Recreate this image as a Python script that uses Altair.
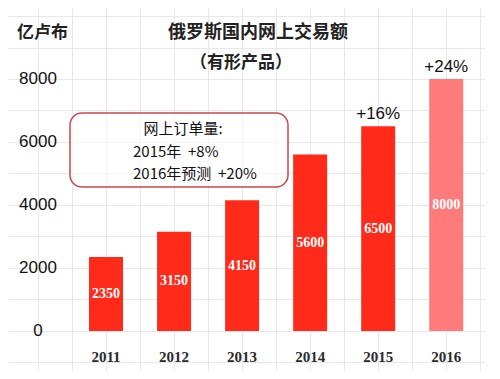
import altair as alt
import pandas as pd

years = ["2011", "2012", "2013", "2014", "2015", "2016"]
values = [2350, 3150, 4150, 5600, 6500, 8000]
growth = ["", "", "", "", "+16%", "+24%"]
bar_colors = ["#ff2a1a", "#ff2a1a", "#ff2a1a", "#ff2a1a", "#ff2a1a", "#ff7a7a"]
y_ticks = [0, 2000, 4000, 6000, 8000]
y_tick_labels = ["0", "2000", "4000", "6000", "8000"]
title_text = "俄罗斯国内网上交易额"
subtitle_text = "（有形产品）"
unit_text = "亿卢布"
box_lines = ["网上订单量:", "2015年\u00a0\u00a0+8%", "2016年预测\u00a0\u00a0+20%"]

df = pd.DataFrame({
    "i": list(range(len(years))),
    "year": years,
    "v": values,
    "half": [v / 2 for v in values],
    "growth": growth,
    "color": bar_colors,
})
ticks_df = pd.DataFrame({"v": y_ticks, "lab": y_tick_labels})

W, H = 477, 363
x_scale = alt.Scale(domain=[-1.367, 5.496], nice=False, zero=False)
y_scale = alt.Scale(domain=[-1270, 10254], nice=False, zero=False)
x_axis = alt.Axis(values=[k * 0.5 for k in range(-2, 12)], grid=True, labels=False,
                  ticks=False, domain=False, title=None, gridColor="#e8e8e8", gridWidth=1)
y_axis = alt.Axis(values=list(range(-1000, 10001, 1000)), grid=True, labels=False,
                  ticks=False, domain=False, title=None, gridColor="#e8e8e8", gridWidth=1)

def X(f):
    return alt.X(f, scale=x_scale, axis=x_axis)

def Y(f):
    return alt.Y(f, scale=y_scale, axis=y_axis)

base = alt.Chart(df)

bars = base.mark_bar(size=34).encode(
    x=X("i:Q"), y=Y("v:Q"), y2=alt.datum(0),
    color=alt.Color("color:N", scale=None),
)

bar_labels = base.mark_text(color="white", font="Liberation Serif", fontWeight="bold",
                            fontSize=14, baseline="middle").encode(
    x=X("i:Q"), y=Y("half:Q"), text="v:Q"
)

growth_labels = base.mark_text(color="#111111", font="Liberation Sans", fontSize=17,
                               baseline="middle", dy=-12).encode(
    x=X("i:Q"), y=Y("v:Q"), text="growth:N"
)

year_labels = base.mark_text(color="#2a2a2a", font="Liberation Serif", fontWeight="bold",
                             fontSize=15, baseline="middle").encode(
    x=X("i:Q"), y=alt.value(349), text="year:N"
)

ytick_labels = alt.Chart(ticks_df).mark_text(color="#111111", font="Liberation Sans",
                                             fontSize=17, baseline="middle", align="center").encode(
    x=alt.value(30), y=Y("v:Q"), text="lab:N"
)

one = pd.DataFrame({"k": [0]})
box = alt.Chart(one).mark_rect(cornerRadius=12, fill="white", fillOpacity=0.6,
                               stroke="#c9474b", strokeWidth=1.5).encode(
    x=alt.value(62), x2=alt.value(280), y=alt.value(105), y2=alt.value(179)
)

cjk = "Noto Sans CJK SC"
box_t1 = alt.Chart(one).mark_text(text=box_lines[0], font=cjk, fontSize=15, color="#111111",
                                  align="center", baseline="middle").encode(
    x=alt.value(175), y=alt.value(121))
box_t2 = alt.Chart(one).mark_text(text=box_lines[1], font=cjk, fontSize=15, color="#111111",
                                  align="left", baseline="middle").encode(
    x=alt.value(125), y=alt.value(144))
box_t3 = alt.Chart(one).mark_text(text=box_lines[2], font=cjk, fontSize=15, color="#111111",
                                  align="left", baseline="middle").encode(
    x=alt.value(125), y=alt.value(166))

title = alt.Chart(one).mark_text(text=title_text, font=cjk, fontSize=18, fontWeight="bold",
                                 color="#222222", align="center", baseline="middle").encode(
    x=alt.value(250), y=alt.value(25))
subtitle = alt.Chart(one).mark_text(text=subtitle_text, font=cjk, fontSize=17, fontWeight="bold",
                                    color="#222222", align="center", baseline="middle").encode(
    x=alt.value(233), y=alt.value(55))
unit = alt.Chart(one).mark_text(text=unit_text, font=cjk, fontSize=17, fontWeight="bold",
                                color="#222222", align="left", baseline="middle").encode(
    x=alt.value(9), y=alt.value(25))

chart = alt.layer(
    bars, bar_labels, growth_labels, year_labels, ytick_labels,
    box, box_t1, box_t2, box_t3, title, subtitle, unit
).properties(
    width=W, height=H, padding=0, autosize=alt.AutoSizeParams(type="none"),
    background="white"
).configure_view(stroke=None)

chart.save("out.html", embed_options={"renderer": "svg", "actions": False})
